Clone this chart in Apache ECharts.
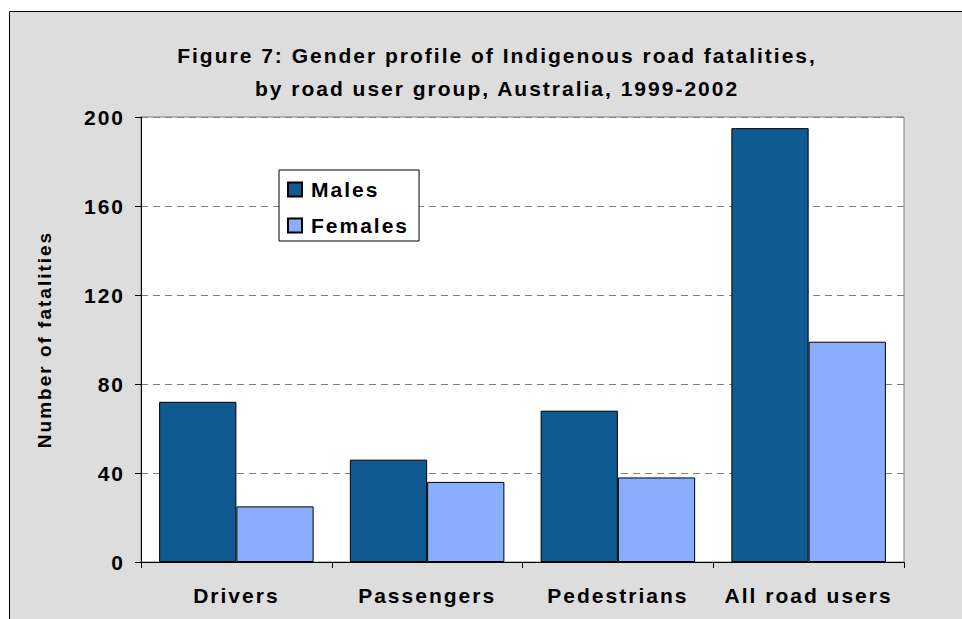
<!DOCTYPE html>
<html>
<head>
<meta charset="utf-8">
<script src="https://cdn.jsdelivr.net/npm/echarts@6/dist/echarts.min.js"></script>
<style>
  html, body { margin: 0; padding: 0; background: #fff; }
  #chart { width: 962px; height: 619px; }
  /* Excel text is spaced wider than plain Arial */
  #chart text { letter-spacing: 2px; }
</style>
</head>
<body>
<div id="chart"></div>
<script>
var categories = ['Drivers', 'Passengers', 'Pedestrians', 'All road users']
var males = [72, 46, 68, 195]
var females = [25, 36, 38, 99]
var yTicks = [0, 40, 80, 120, 160, 200]

var font = '"Liberation Sans", Arial, sans-serif'

var chart = echarts.init(document.getElementById('chart'), null, { renderer: 'svg' })

chart.setOption({
  animation: false,
  backgroundColor: '#fff',
  textStyle: { fontFamily: font },
  graphic: [{
    type: 'rect',
    z: -10,
    silent: true,
    shape: { x: 9.5, y: 11.5, width: 1000, height: 700 },
    style: { fill: '#DDDDDD', stroke: '#000', lineWidth: 1 }
  }],
  title: {
    text: 'Figure 7: Gender profile of Indigenous road fatalities,\nby road user group, Australia, 1999-2002',
    left: 492,
    textAlign: 'center',
    top: 34,
    textStyle: {
      fontFamily: font,
      fontSize: 21,
      fontWeight: 'bold',
      color: '#000',
      lineHeight: 33
    }
  },
  legend: {
    orient: 'vertical',
    left: 279,
    top: 170,
    padding: [9, 24, 5, 8],
    itemGap: 15,
    itemWidth: 14,
    itemHeight: 14,
    backgroundColor: '#fff',
    borderColor: '#000',
    borderWidth: 1,
    borderRadius: 0,
    icon: 'rect',
    textStyle: {
      fontFamily: font,
      fontSize: 21,
      fontWeight: 'bold',
      color: '#000',
      lineHeight: 21,
      padding: [0, 0, 0, 4]
    },
    data: ['Males', 'Females']
  },
  grid: {
    left: 141,
    right: 58,
    top: 117,
    bottom: 57,
    show: true,
    backgroundColor: '#fff',
    borderColor: '#808080',
    borderWidth: 1,
    containLabel: false
  },
  xAxis: {
    type: 'category',
    data: categories,
    axisLine: { lineStyle: { color: '#000', width: 1 } },
    axisTick: { show: true, length: 6, lineStyle: { color: '#000' } },
    axisLabel: {
      margin: 23,
      fontFamily: font,
      fontSize: 21,
      fontWeight: 'bold',
      color: '#000'
    },
    splitLine: { show: false }
  },
  yAxis: {
    type: 'value',
    min: yTicks[0],
    max: yTicks[yTicks.length - 1],
    interval: yTicks[1] - yTicks[0],
    name: 'Number of fatalities',
    nameLocation: 'middle',
    nameGap: 87,
    nameTextStyle: {
      fontFamily: font,
      fontSize: 19,
      fontWeight: 'bold',
      color: '#000'
    },
    axisLine: { show: true, lineStyle: { color: '#000', width: 1 } },
    axisTick: { show: true, length: 6, lineStyle: { color: '#000' } },
    axisLabel: {
      margin: 16,
      fontFamily: font,
      fontSize: 21,
      fontWeight: 'bold',
      color: '#000'
    },
    splitLine: {
      show: true,
      lineStyle: { color: '#808080', type: [7, 5], width: 1 }
    }
  },
  series: [
    {
      name: 'Males',
      type: 'bar',
      data: males,
      barGap: '0%',
      barCategoryGap: '19%',
      itemStyle: { color: '#0F5A91', borderColor: '#000', borderWidth: 1 }
    },
    {
      name: 'Females',
      type: 'bar',
      data: females,
      barGap: '0%',
      barCategoryGap: '19%',
      itemStyle: { color: '#88AEFC', borderColor: '#000', borderWidth: 1 }
    }
  ]
})
</script>
</body>
</html>
